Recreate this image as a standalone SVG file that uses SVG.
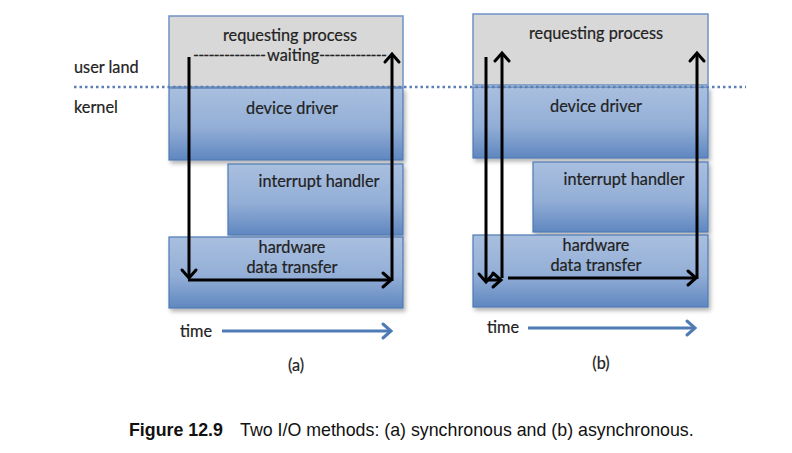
<svg xmlns="http://www.w3.org/2000/svg" width="792" height="453" viewBox="0 0 792 453">
<defs>
<linearGradient id="blue" x1="0" y1="0" x2="0" y2="1">
<stop offset="0" stop-color="#a9bfdf"/>
<stop offset="0.55" stop-color="#93aed6"/>
<stop offset="1" stop-color="#5f87c0"/>
</linearGradient>
<filter id="sh" x="-10%" y="-10%" width="125%" height="130%">
<feDropShadow dx="2" dy="3" stdDeviation="2" flood-color="#000" flood-opacity="0.3"/>
</filter>
<marker id="ah" markerUnits="userSpaceOnUse" markerWidth="20" markerHeight="20" refX="0" refY="0" viewBox="-12 -10 14 20" orient="auto" overflow="visible">
<path d="M-8,-7 L0,0 L-8,7" fill="none" stroke="#000" stroke-width="3" stroke-linecap="round" stroke-linejoin="miter"/>
</marker>
<marker id="bh" markerUnits="userSpaceOnUse" markerWidth="20" markerHeight="20" refX="0" refY="0" viewBox="-12 -10 14 20" orient="auto" overflow="visible">
<path d="M-8,-7 L0,0 L-8,7" fill="none" stroke="#4f7bb5" stroke-width="3" stroke-linecap="round"/>
</marker>
</defs>
<style>
.t{font-family:Lato,"Open Sans","Liberation Sans",sans-serif;font-size:16.3px;fill:#222;stroke:#222;stroke-width:0.2}
.c{text-anchor:middle}
.gray{fill:#d8d8d8;stroke:#6f93c6;stroke-width:1.5}
.blue{fill:url(#blue);stroke:#4f7bb5;stroke-width:1.2;filter:url(#sh)}
.arr{stroke:#000;stroke-width:3;fill:none;marker-end:url(#ah)}
.tarr{stroke:#4f7bb5;stroke-width:3;fill:none;marker-end:url(#bh)}
.cap{font-family:"Liberation Sans",Arial,sans-serif;font-size:17.8px;fill:#111}
</style>
<rect width="792" height="453" fill="#fff"/>

<g id="label-userland"><text class="t" x="74" y="73">user land</text></g>
<g id="label-kernel"><text class="t" x="74" y="113">kernel</text></g>

<g id="a-requesting-process"><rect class="gray" x="169" y="16" width="234" height="71"/><text class="t c" x="290" y="41">requesting process</text></g>
<g id="a-device-driver"><rect class="blue" x="169" y="88" width="234" height="72"/><text class="t c" x="292" y="114">device driver</text></g>
<g id="a-interrupt-handler"><rect class="blue" x="228" y="164" width="175" height="71"/><text class="t c" x="319" y="187">interrupt handler</text></g>
<g id="a-hardware"><rect class="blue" x="169" y="237" width="234" height="71"/><text class="t c" x="292" y="253">hardware</text><text class="t c" x="292" y="273">data transfer</text></g>

<g id="b-requesting-process"><rect class="gray" x="473" y="14" width="235" height="71"/><text class="t c" x="596" y="39">requesting process</text></g>
<g id="b-device-driver"><rect class="blue" x="473" y="87" width="235" height="71"/><text class="t c" x="596" y="112">device driver</text></g>
<g id="b-interrupt-handler"><rect class="blue" x="533" y="162" width="175" height="70"/><text class="t c" x="624" y="185">interrupt handler</text></g>
<g id="b-hardware"><rect class="blue" x="473" y="235" width="235" height="72"/><text class="t c" x="596" y="251">hardware</text><text class="t c" x="596" y="271">data transfer</text></g>

<line x1="74" y1="87" x2="746" y2="87" stroke="#5b7fb3" stroke-width="2.5" stroke-dasharray="2.5 3"/>

<g id="a-waiting"><text class="t" y="61"><tspan x="193" textLength="73" lengthAdjust="spacing">--------------</tspan><tspan x="267">waiting</tspan><tspan x="319" textLength="68" lengthAdjust="spacing">-------------</tspan></text></g>

<g id="connectors">
<line class="arr" x1="189" y1="57" x2="189" y2="278"/>
<line class="arr" x1="188" y1="280" x2="391" y2="280"/>
<line class="arr" x1="392" y1="281" x2="392" y2="54"/>
<line class="arr" x1="486" y1="57" x2="486" y2="282"/>
<line class="arr" x1="486" y1="280" x2="501" y2="280"/>
<line class="arr" x1="502" y1="278" x2="502" y2="53"/>
<line class="arr" x1="508" y1="278" x2="696" y2="278"/>
<line class="arr" x1="697" y1="279" x2="697" y2="53"/>
<line class="tarr" x1="222" y1="331" x2="391" y2="331"/>
<line class="tarr" x1="528" y1="328" x2="695" y2="328"/>
</g>

<g id="time-a"><text class="t" x="180" y="337">time</text></g>
<g id="time-b"><text class="t" x="487" y="333">time</text></g>
<g id="label-a"><text class="t c" x="296" y="371">(a)</text></g>
<g id="label-b"><text class="t c" x="601" y="369">(b)</text></g>

<g id="caption"><text class="cap" x="129" y="436"><tspan font-weight="bold">Figure 12.9</tspan><tspan x="240">Two I/O methods: (a) synchronous and (b) asynchronous.</tspan></text></g>
</svg>
